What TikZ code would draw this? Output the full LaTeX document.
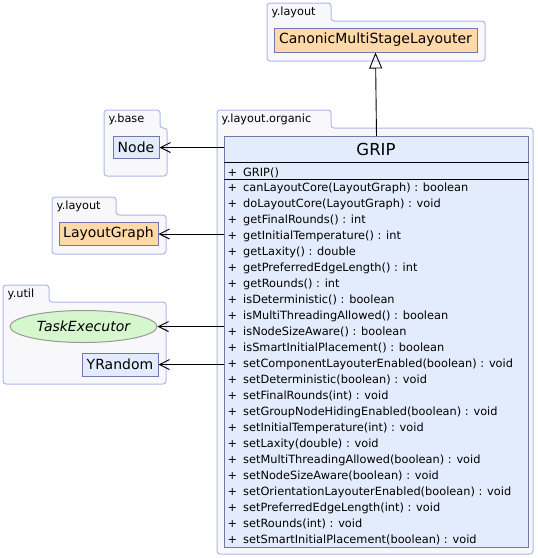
\documentclass[tikz,border=0pt]{standalone}
\usepackage{fontspec}
\setmainfont{DejaVu Sans}
\usetikzlibrary{arrows.meta,positioning,shapes.geometric}
\definecolor{pkgline}{HTML}{ABB7F0}
\definecolor{pkgfill}{HTML}{F8F8FA}
\definecolor{clsline}{HTML}{7676AC}
\definecolor{clsfill}{HTML}{E2ECFD}
\definecolor{clsorange}{HTML}{FFDAA8}
\definecolor{ifacegreen}{HTML}{D6F6CE}

% package frame: label node, left x, tab top, tab right, tab bottom, right x, bottom y, text
\newcommand\umlpackage[8]{%
  \draw[pkg] (#2,#5) -- (#2,#3) -- (#4,#3) -- (#4,#5) -- (#6,#5) -- (#6,#7) -- (#2,#7) -- cycle;
  \node[pkglabel] (#1) at ({#2+4.5},{(#3+#5)/2+0.5}) {#8};
}

\begin{document}
\begin{tikzpicture}[x=1pt,y=-1pt,
  pkg/.style={draw=pkgline, fill=pkgfill, line width=1pt, rounded corners=3pt},
  pkglabel/.style={anchor=west, inner sep=0pt, font=\fontsize{11.3}{13}\selectfont},
  cls/.style={draw=clsline, fill=clsfill, line width=1pt, inner sep=0pt,
    font=\fontsize{14}{16}\selectfont},
  meth/.style={anchor=west, inner sep=0pt, text height=8.5pt, text depth=2.5pt,
    font=\fontsize{11.35}{13}\selectfont},
  dep/.style={-{Straight Barb[length=10pt,width=10pt]}, line width=0.9pt},
  inh/.style={-{Triangle[open,length=16pt,width=13pt]}, line width=0.9pt}]
\useasboundingbox (0,0) rectangle (538,558);

% packages
\umlpackage{pkgtop}{267}{3}{331}{21}{485}{61}{y.layout}
\umlpackage{pkgbase}{104}{110}{160}{128}{167}{176}{y.base}
\umlpackage{pkgorg}{217}{110}{331}{128}{533}{554}{y.layout.organic}
\umlpackage{pkglay}{52}{197}{116}{215}{166}{254}{y.layout}
\umlpackage{pkgutil}{3}{285}{49}{302}{166}{384}{y.util}

% classes
\node[cls, fill=clsorange, minimum width=203pt, minimum height=24pt] (cmsl) at (375.5,40) {CanonicMultiStageLayouter};
\node[cls, minimum width=46pt, minimum height=22pt] (nodecls) at (136,147.5) {Node};
\node[cls, fill=clsorange, minimum width=99pt, minimum height=23pt] (lgraph) at (108.5,234) {LayoutGraph};
\node[cls, ellipse, draw=black!40, fill=ifacegreen, minimum width=147pt, minimum height=32pt] (taskex) at (83.5,326.5) {\itshape TaskExecutor};
\node[cls, minimum width=76pt, minimum height=23pt] (yrand) at (120,364.5) {YRandom};

% GRIP
\node[cls, anchor=north west, minimum width=304pt, minimum height=411pt] (grip) at (224,136) {};
\node[inner sep=0pt, font=\fontsize{16.5}{18}\selectfont] (griptitle) at (376,149) {GRIP};
\draw[line width=0.9pt] ([yshift=-26pt]grip.north west) -- ([yshift=-26pt]grip.north east);
\draw[line width=0.9pt] ([yshift=-43pt]grip.north west) -- ([yshift=-43pt]grip.north east);
\node[meth, anchor=center] (pctor) at (232.5,173) {+};
\node[meth] (ctor) at (243,173) {GRIP()};
\foreach \m [count=\i] in {canLayoutCore(LayoutGraph) : boolean,
  doLayoutCore(LayoutGraph) : void,
  getFinalRounds() : int,
  getInitialTemperature() : int,
  getLaxity() : double,
  getPreferredEdgeLength() : int,
  getRounds() : int,
  isDeterministic() : boolean,
  isMultiThreadingAllowed() : boolean,
  isNodeSizeAware() : boolean,
  isSmartInitialPlacement() : boolean,
  setComponentLayouterEnabled(boolean) : void,
  setDeterministic(boolean) : void,
  setFinalRounds(int) : void,
  setGroupNodeHidingEnabled(boolean) : void,
  setInitialTemperature(int) : void,
  setLaxity(double) : void,
  setMultiThreadingAllowed(boolean) : void,
  setNodeSizeAware(boolean) : void,
  setOrientationLayouterEnabled(boolean) : void,
  setPreferredEdgeLength(int) : void,
  setRounds(int) : void,
  setSmartInitialPlacement(boolean) : void}{
  \node[meth, anchor=center] (p\i) at (232.5,{172+16*\i}) {+};
  \node[meth] (m\i) at (243,{172+16*\i}) {\m};
}

% connectors
\draw[inh] (grip.north) -- (cmsl.south);
\draw[dep] (grip.west |- nodecls.east) -- (nodecls.east);
\draw[dep] (grip.west |- lgraph.east) -- (lgraph.east);
\draw[dep] (grip.west |- taskex.east) -- (taskex.east);
\draw[dep] (grip.west |- yrand.east) -- (yrand.east);
\end{tikzpicture}
\end{document}
